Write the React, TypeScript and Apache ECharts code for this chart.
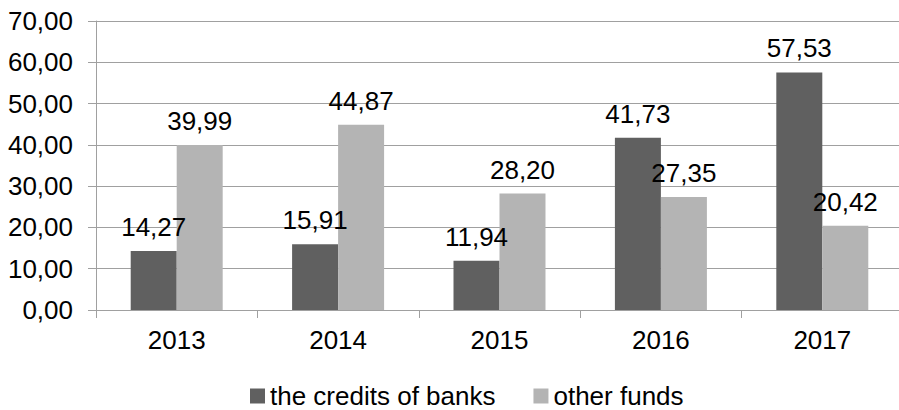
import React, { useEffect, useRef } from "react";
import * as echarts from "echarts";

const categories = ["2013", "2014", "2015", "2016", "2017"];
const creditsOfBanks = [14.27, 15.91, 11.94, 41.73, 57.53];
const otherFunds = [39.99, 44.87, 28.2, 27.35, 20.42];
const seriesNames = ["the credits of banks", "other funds"];

const FONT = "'Liberation Sans', Arial, sans-serif";
const fmt = (v: number) => v.toFixed(2).replace(".", ",");

export default function App() {
  const ref = useRef<HTMLDivElement>(null);
  useEffect(() => {
    if (!ref.current) return;
    const chart = echarts.init(ref.current, null, { renderer: "svg" });
    const labelStyle = {
      show: true,
      position: "top" as const,
      distance: 11,
      color: "#000",
      fontSize: 26,
      fontFamily: FONT,
      formatter: (p: any) => fmt(p.value),
    };
    chart.setOption({
      animation: false,
      backgroundColor: "#fff",
      textStyle: { fontFamily: FONT },
      grid: {
        left: 96,
        top: 21,
        width: 807,
        height: 289,
        containLabel: false,
        outerBoundsMode: "none",
      },
      legend: {
        left: 245,
        top: 378,
        itemWidth: 15,
        itemHeight: 15,
        itemGap: 38,
        icon: "rect",
        textStyle: { fontSize: 26, color: "#000", fontFamily: FONT },
        data: seriesNames,
      },
      xAxis: {
        type: "category",
        data: categories,
        axisLine: { show: true, lineStyle: { color: "#a0a0a0", width: 1 } },
        axisTick: { show: true, length: 8, alignWithLabel: false, lineStyle: { color: "#a0a0a0" } },
        axisLabel: { margin: 17, fontSize: 26, color: "#000", fontFamily: FONT },
        splitLine: { show: false },
      },
      yAxis: {
        type: "value",
        min: 0,
        max: 70,
        interval: 10,
        axisLine: { show: true, lineStyle: { color: "#a0a0a0", width: 1 } },
        axisTick: { show: true, length: 8, lineStyle: { color: "#a0a0a0" } },
        axisLabel: {
          margin: 23,
          fontSize: 26,
          color: "#000",
          fontFamily: FONT,
          formatter: (v: number) => fmt(v),
        },
        splitLine: { show: true, lineStyle: { color: "#a0a0a0", width: 1 } },
      },
      series: [
        {
          name: seriesNames[0],
          type: "bar",
          data: creditsOfBanks,
          itemStyle: { color: "#606060" },
          barGap: "0%",
          barCategoryGap: "43%",
          label: labelStyle,
        },
        {
          name: seriesNames[1],
          type: "bar",
          data: otherFunds,
          itemStyle: { color: "#b4b4b4" },
          barGap: "0%",
          barCategoryGap: "43%",
          label: labelStyle,
        },
      ],
    });
    return () => chart.dispose();
  }, []);
  return (
    <div
      ref={ref}
      style={{ position: "fixed", left: 0, top: 0, width: 899, height: 410 }}
    />
  );
}
